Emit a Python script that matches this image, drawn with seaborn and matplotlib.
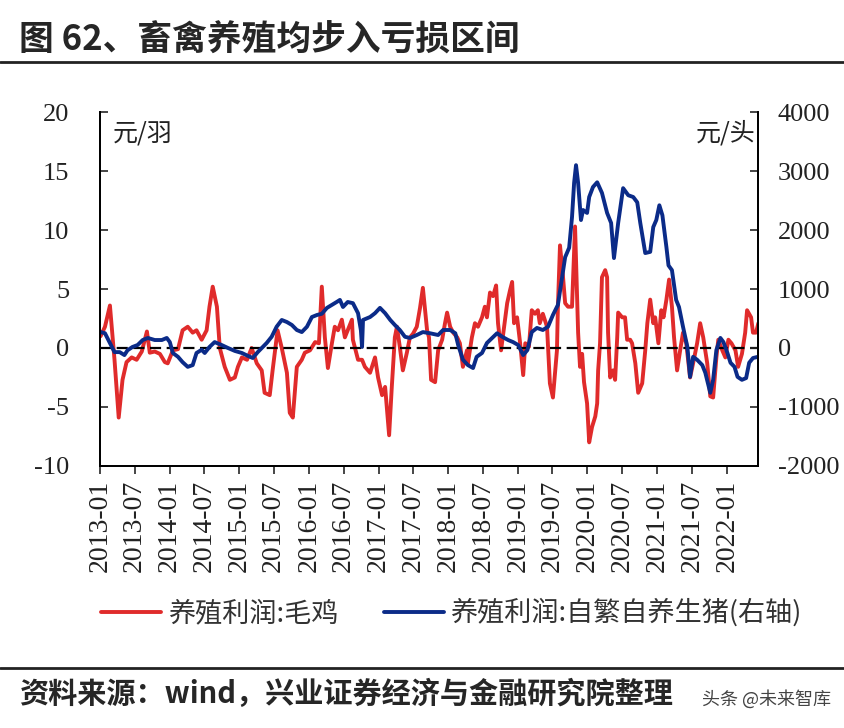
import numpy as np
import pandas as pd
import seaborn as sns
import matplotlib.pyplot as plt
import matplotlib.dates as mdates

# ---------------------------------------------------------------------------
# Data
# ---------------------------------------------------------------------------

chicken_dates = [
    '2013-01-04', '2013-01-27', '2013-02-22', '2013-03-08', '2013-03-18', '2013-04-09',
    '2013-04-29', '2013-05-20', '2013-06-16', '2013-07-12', '2013-08-08', '2013-09-04',
    '2013-09-19', '2013-10-15', '2013-11-11', '2013-12-07', '2013-12-22', '2014-01-18',
    '2014-02-14', '2014-03-10', '2014-04-06', '2014-05-02', '2014-05-22', '2014-06-18',
    '2014-07-14', '2014-07-29', '2014-08-15', '2014-09-06', '2014-09-21', '2014-10-17',
    '2014-11-13', '2014-12-09', '2014-12-25', '2015-01-15', '2015-02-11', '2015-03-07',
    '2015-04-03', '2015-04-29', '2015-05-14', '2015-06-10', '2015-06-25', '2015-07-16',
    '2015-07-21', '2015-08-12', '2015-09-08', '2015-09-23', '2015-10-09', '2015-10-30',
    '2015-11-25', '2015-12-11', '2016-01-07', '2016-02-03', '2016-02-23', '2016-03-09',
    '2016-03-25', '2016-04-10', '2016-05-01', '2016-05-16', '2016-06-02', '2016-06-22',
    '2016-07-08', '2016-07-23', '2016-08-14', '2016-08-19', '2016-09-15', '2016-10-06',
    '2016-10-21', '2016-11-17', '2016-12-13', '2016-12-29', '2017-01-19', '2017-02-04',
    '2017-02-25', '2017-03-11', '2017-03-27', '2017-04-07', '2017-04-22', '2017-05-08',
    '2017-05-29', '2017-06-14', '2017-06-30', '2017-07-20', '2017-08-06', '2017-08-21',
    '2017-09-12', '2017-09-22', '2017-10-03', '2017-10-24', '2017-11-09', '2017-11-30',
    '2017-12-15', '2017-12-26', '2018-01-11', '2018-01-27', '2018-02-17', '2018-03-03',
    '2018-03-19', '2018-04-09', '2018-04-14', '2018-05-05', '2018-05-21', '2018-06-06',
    '2018-06-27', '2018-07-12', '2018-07-23', '2018-08-08', '2018-08-24', '2018-09-09',
    '2018-09-19', '2018-10-05', '2018-10-21', '2018-11-06', '2018-11-21', '2018-12-02',
    '2018-12-12', '2018-12-28', '2019-01-13', '2019-01-29', '2019-02-09', '2019-02-28',
    '2019-03-15', '2019-04-01', '2019-04-16', '2019-04-26', '2019-05-12', '2019-06-03',
    '2019-06-18', '2019-07-04', '2019-07-25', '2019-07-30', '2019-08-10', '2019-08-26',
    '2019-09-06', '2019-09-21', '2019-10-12', '2019-10-28', '2019-11-13', '2019-11-23',
    '2019-12-04', '2019-12-14', '2019-12-30', '2020-01-10', '2020-01-25', '2020-02-11',
    '2020-02-21', '2020-02-26', '2020-03-07', '2020-03-17', '2020-04-03', '2020-04-13',
    '2020-04-18', '2020-04-29', '2020-05-14', '2020-05-25', '2020-06-05', '2020-06-10',
    '2020-07-01', '2020-07-16', '2020-07-27', '2020-08-12', '2020-08-22', '2020-09-08',
    '2020-09-23', '2020-10-14', '2020-10-30', '2020-11-10', '2020-11-25', '2020-12-11',
    '2020-12-21', '2021-01-07', '2021-01-22', '2021-02-03', '2021-02-18', '2021-03-04',
    '2021-03-19', '2021-03-30', '2021-04-15', '2021-05-01', '2021-05-16', '2021-06-02',
    '2021-06-22', '2021-07-08', '2021-07-29', '2021-08-14', '2021-08-30', '2021-09-20',
    '2021-10-06', '2021-10-21', '2021-11-07', '2021-11-17', '2021-12-08', '2021-12-24',
    '2022-01-09', '2022-01-25', '2022-02-15', '2022-03-01', '2022-03-21', '2022-04-07',
    '2022-04-17', '2022-05-08', '2022-05-18', '2022-06-03', '2022-06-15',
]
chicken_profit = [
    1.0, 1.8, 3.6, 0.9, -1.0, -5.9,
    -2.7, -1.2, -0.8, -1.0, -0.3, 1.4,
    -0.4, -0.3, -0.5, -1.2, -1.3, -0.2,
    -0.1, 1.5, 1.8, 1.3, 1.5, 0.7,
    1.5, 3.5, 5.2, 3.5, 0.0, -1.6,
    -2.7, -2.5, -1.6, -0.8, -1.0, 0.0,
    -1.3, -1.9, -3.8, -4.0, -1.9, 0.9,
    1.5, 0.0, -2.1, -5.5, -5.9, -1.6,
    -1.0, -0.4, -0.2, 0.5, 0.4, 5.2,
    0.9, -1.7, 0.4, 1.8, 1.5, 2.4,
    0.9, 1.5, 2.4, 0.7, -1.0, -1.0,
    -1.6, -2.1, -0.8, -2.5, -4.0, -3.3,
    -7.4, -3.3, 0.9, 1.8, 0.1, -1.9,
    -0.4, 0.9, 1.2, 1.8, 3.4, 5.1,
    1.5, 0.9, -2.7, -2.9, -0.2, 0.7,
    2.1, 3.0, 1.8, 1.3, 0.9, 0.4,
    -1.6, -0.2, -1.3, 0.9, 2.1, 1.8,
    2.6, 3.5, 2.6, 4.7, 4.4, 5.3,
    2.1, -0.2, 1.8, 3.8, 4.9, 5.6,
    2.1, 2.6, 0.4, -2.3, 0.4, 0.1,
    3.2, 2.9, 3.2, 2.1, 2.9, 1.8,
    -3.0, -4.2, -0.2, 3.5, 8.7, 6.0,
    3.8, 3.5, 3.5, 10.3, 1.3, -1.6,
    -0.5, -2.9, -4.7, -8.0, -6.7, -5.8,
    -4.7, -1.9, 0.4, 6.0, 6.6, 6.0,
    1.3, -2.5, -1.9, -2.7, 0.9, 3.0,
    2.6, 2.6, 0.7, 0.7, 0.4, -1.3,
    -3.8, -3.0, -0.2, 2.1, 4.1, 2.1,
    2.6, 0.4, 3.2, 2.6, 4.1, 5.8,
    3.5, 0.9, -1.9, -0.2, 1.3, 0.4,
    -2.5, -1.3, 0.4, 2.1, 0.9, -1.3,
    -4.1, -4.2, -0.8, 0.7, -0.2, -0.8,
    0.7, 0.4, -0.2, -1.6, -0.5, 1.3,
    3.2, 2.6, 1.3, 1.3, 2.1,
]

hog_dates = [
    '2013-01-04', '2013-01-27', '2013-02-22', '2013-03-18', '2013-04-14', '2013-05-09',
    '2013-05-25', '2013-06-20', '2013-07-17', '2013-08-13', '2013-09-09', '2013-10-15',
    '2013-11-21', '2013-12-17', '2014-01-02', '2014-01-18', '2014-02-14', '2014-03-10',
    '2014-04-06', '2014-05-02', '2014-05-22', '2014-06-18', '2014-07-04', '2014-07-29',
    '2014-08-25', '2014-10-01', '2014-11-03', '2014-12-09', '2015-01-15', '2015-02-16',
    '2015-03-13', '2015-04-08', '2015-05-14', '2015-05-25', '2015-06-20', '2015-07-16',
    '2015-08-12', '2015-09-08', '2015-10-04', '2015-10-30', '2015-11-25', '2015-12-22',
    '2016-01-17', '2016-02-13', '2016-03-09', '2016-04-05', '2016-05-01', '2016-05-26',
    '2016-06-12', '2016-06-28', '2016-07-23', '2016-08-19', '2016-09-15', '2016-09-30',
    '2016-10-06', '2016-10-11', '2016-11-17', '2016-12-13', '2017-01-08', '2017-02-04',
    '2017-03-03', '2017-03-27', '2017-04-22', '2017-05-19', '2017-06-14', '2017-07-20',
    '2017-08-21', '2017-09-27', '2017-11-09', '2017-12-05', '2018-01-11', '2018-02-07',
    '2018-02-22', '2018-03-19', '2018-04-14', '2018-05-11', '2018-05-30', '2018-06-27',
    '2018-07-23', '2018-08-19', '2018-09-14', '2018-10-11', '2018-11-11', '2018-12-07',
    '2019-01-03', '2019-01-29', '2019-02-20', '2019-03-15', '2019-04-11', '2019-05-12',
    '2019-06-08', '2019-07-04', '2019-07-30', '2019-08-21', '2019-09-06', '2019-09-27',
    '2019-10-12', '2019-10-23', '2019-11-02', '2019-11-13', '2019-11-28', '2019-12-09',
    '2019-12-30', '2020-01-10', '2020-01-30', '2020-02-21', '2020-03-17', '2020-04-13',
    '2020-05-04', '2020-05-19', '2020-06-10', '2020-07-06', '2020-08-02', '2020-08-28',
    '2020-09-18', '2020-10-04', '2020-10-30', '2020-11-25', '2020-12-11', '2020-12-27',
    '2021-01-12', '2021-01-28', '2021-02-18', '2021-03-01', '2021-03-19', '2021-04-10',
    '2021-04-25', '2021-05-16', '2021-06-08', '2021-06-22', '2021-07-08', '2021-07-29',
    '2021-08-25', '2021-09-10', '2021-10-06', '2021-10-21', '2021-11-07', '2021-11-28',
    '2021-12-14', '2022-01-04', '2022-01-20', '2022-02-10', '2022-02-26', '2022-03-21',
    '2022-04-12', '2022-04-28', '2022-05-18', '2022-06-13',
]
hog_profit = [
    270, 250, 85, -70, -70, -120,
    -40, 17, 50, 135, 170, 135,
    135, 170, 100, -85, -150, -240,
    -320, -290, -85, -30, -85, 17,
    100, 50, 0, -50, -85, -135,
    -170, -70, 50, 85, 190, 360,
    475, 440, 390, 305, 270, 360,
    525, 560, 580, 680, 730, 780,
    815, 695, 780, 760, 590, 300,
    17, 475, 525, 590, 680, 590,
    475, 390, 305, 190, 170, 220,
    270, 250, 220, 305, 305, 250,
    50, -200, -290, -340, -150, -85,
    85, 170, 250, 190, 135, 100,
    50, -120, -35, 270, 340, 305,
    360, 560, 730, 1200, 1540, 1700,
    2220, 2800, 3100, 2800, 2170, 2340,
    2290, 2560, 2730, 2810, 2630, 2290,
    2120, 1525, 2120, 2710, 2590, 2560,
    2470, 2120, 1610, 1630, 2050, 2170,
    2420, 2250, 1710, 1400, 1320, 815,
    695, 360, 17, -490, -150, -200,
    -290, -420, -760, -540, -35, 170,
    100, -85, -250, -320, -490, -540,
    -510, -250, -170, -150,
]

left_ticks = [-10, -5, 0, 5, 10, 15, 20]
right_ticks = [-2000, -1000, 0, 1000, 2000, 3000, 4000]

chicken_label = '养殖利润:毛鸡'
hog_label = '养殖利润:自繁自养生猪(右轴)'

RED = '#E02B2B'
BLUE = '#0B2B88'

# ---------------------------------------------------------------------------
# Style
# ---------------------------------------------------------------------------

sns.set_style('ticks')
plt.rcParams['font.family'] = ['Noto Sans CJK SC', 'DejaVu Sans']
plt.rcParams['axes.unicode_minus'] = False
SERIF = ['Liberation Serif', 'DejaVu Serif']

chicken = pd.DataFrame({'date': pd.to_datetime(chicken_dates), 'profit': chicken_profit})
hog = pd.DataFrame({'date': pd.to_datetime(hog_dates), 'profit': hog_profit})

fig = plt.figure(figsize=(8.44, 7.28), dpi=100)
ax = fig.add_axes([0.1185, 0.360, 0.780, 0.486])
ax2 = ax.twinx()

sns.lineplot(data=chicken, x='date', y='profit', ax=ax, color=RED, lw=2.8,
             label=chicken_label, legend=False)
sns.lineplot(data=hog, x='date', y='profit', ax=ax2, color=BLUE, lw=2.8,
             label=hog_label, legend=False)
ax.axhline(0, color='black', lw=1.6, ls=(0, (5, 2.5)), zorder=5)

ax.set_ylim(-10, 20)
ax2.set_ylim(-2000, 4000)
ax.set_yticks(left_ticks)
ax2.set_yticks(right_ticks)
ax.set_xlim(pd.Timestamp('2013-01-01'), pd.Timestamp('2022-06-15'))
ax.xaxis.set_major_locator(mdates.MonthLocator(bymonth=[1, 7]))
ax.xaxis.set_major_formatter(mdates.DateFormatter('%Y-%m'))

for a in (ax, ax2):
    a.set_xlabel('')
    a.set_ylabel('')
    a.spines['top'].set_visible(False)
    for s in a.spines.values():
        s.set_linewidth(1.3)
        s.set_color('black')

ax.tick_params(axis='y', direction='in', length=6, width=1.2, pad=22)
ax2.tick_params(axis='y', direction='in', length=6, width=1.2, pad=14)
ax.tick_params(axis='x', direction='out', length=6, width=1.2, pad=4, rotation=90)

for lab in ax.get_yticklabels() + ax2.get_yticklabels():
    lab.set_fontfamily(SERIF)
    lab.set_fontsize(19)
    lab.set_color('#222222')
for lab in ax.get_xticklabels():
    lab.set_fontfamily(SERIF)
    lab.set_fontsize(20)
    lab.set_color('#222222')

ax.text(0.02, 0.975, '元/羽', transform=ax.transAxes, ha='left', va='top',
        fontsize=18, color='#222222')
ax.text(0.995, 0.975, '元/头', transform=ax.transAxes, ha='right', va='top',
        fontsize=18, color='#222222')

# legend below the plot
h1, l1 = ax.get_legend_handles_labels()
h2, l2 = ax2.get_legend_handles_labels()
fig.legend(h1 + h2, l1 + l2, loc='center', bbox_to_anchor=(0.535, 0.158), ncol=2,
           frameon=False, fontsize=19.5, handlelength=2.2, columnspacing=1.7,
           handletextpad=0.25, labelcolor='#333333')

# title, rules, source
fig.text(0.022, 0.945, '图 62、畜禽养殖均步入亏损区间', fontsize=25, fontweight='bold',
         ha='left', va='center')
fig.add_artist(plt.Line2D([0, 1], [0.915, 0.915], color='#222222', lw=2,
                          transform=fig.transFigure))
fig.add_artist(plt.Line2D([0, 1], [0.083, 0.083], color='#222222', lw=2,
                          transform=fig.transFigure))
fig.text(0.022, 0.047, '资料来源：wind，兴业证券经济与金融研究院整理', fontsize=21,
         fontweight='bold', ha='left', va='center')
fig.text(0.985, 0.040, '头条 @未来智库', fontsize=13, ha='right', va='center',
         color='#444444')

fig.savefig('out.png', dpi=100)
